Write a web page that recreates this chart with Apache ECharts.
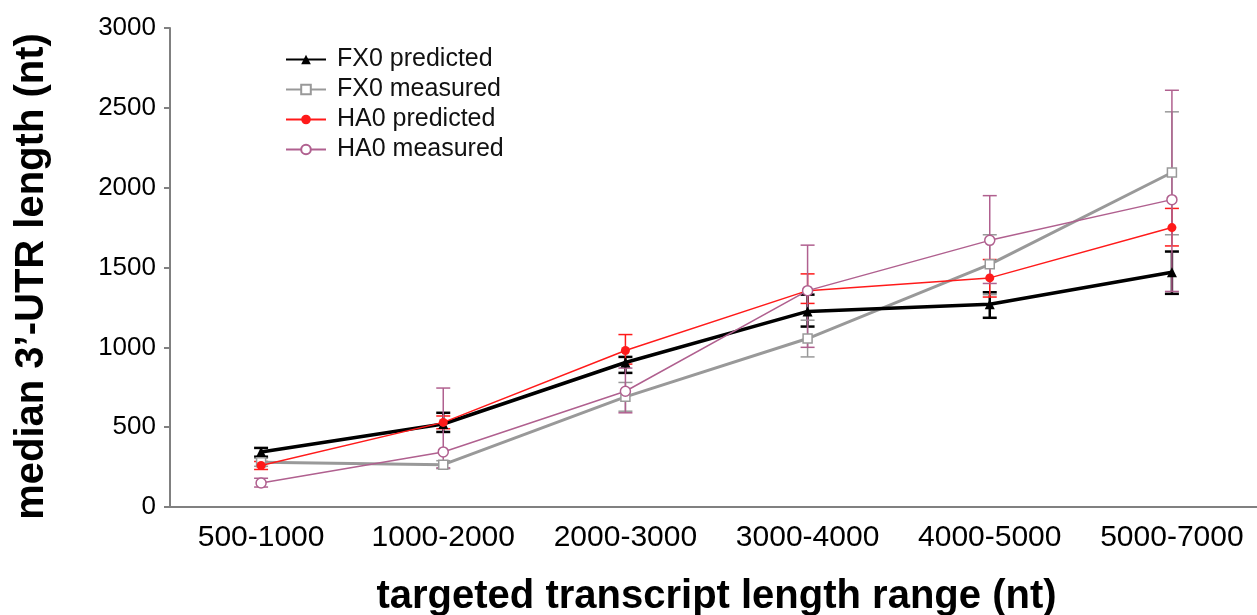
<!DOCTYPE html>
<html>
<head>
<meta charset="utf-8">
<script src="https://cdn.jsdelivr.net/npm/echarts@6/dist/echarts.min.js"></script>
<style>
  html, body { margin: 0; padding: 0; background: #fff; }
  #chart { width: 1257px; height: 615px; }
</style>
</head>
<body>
<div id="chart"></div>
<script>
// categories on the x axis
const ranges = ["500-1000", "1000-2000", "2000-3000", "3000-4000", "4000-5000", "5000-7000"];
const yTicks = [0, 500, 1000, 1500, 2000, 2500, 3000];

// median 3'-UTR length
const fx0Predicted = [345, 520, 905, 1225, 1270, 1470];
const fx0Measured = [280, 265, 690, 1055, 1520, 2095];
const ha0Predicted = [260, 530, 980, 1355, 1435, 1750];
const ha0Measured = [150, 345, 725, 1355, 1670, 1925];

// error bar ends (low / high)
const fx0PredLow = [315, 470, 840, 1130, 1185, 1335];
const fx0PredHigh = [370, 590, 940, 1330, 1345, 1600];
const fx0MeasLow = [255, 240, 600, 940, 1330, 1705];
const fx0MeasHigh = [305, 290, 780, 1170, 1705, 2475];
const ha0PredLow = [235, 490, 895, 1275, 1315, 1635];
const ha0PredHigh = [285, 570, 1080, 1460, 1550, 1870];
const ha0MeasLow = [125, 245, 590, 1000, 1400, 1350];
const ha0MeasHigh = [180, 745, 870, 1640, 1950, 2610];

const black = "#000000";
const gray = "#999999";
const red = "#ff1a1a";
const pink = "#b0608f";

var myChart = echarts.init(document.getElementById("chart"));

function errorSeries(low, high, color, width) {
  return {
    type: "custom",
    silent: true,
    z: 1,
    renderItem: function (params, api) {
      var lo = api.coord([api.value(0), api.value(1)]);
      var hi = api.coord([api.value(0), api.value(2)]);
      var half = 7;
      var style = { stroke: color, lineWidth: width };
      return {
        type: "group",
        children: [
          { type: "line", shape: { x1: lo[0], y1: lo[1], x2: hi[0], y2: hi[1] }, style: style },
          { type: "line", shape: { x1: lo[0] - half, y1: lo[1], x2: lo[0] + half, y2: lo[1] }, style: style },
          { type: "line", shape: { x1: hi[0] - half, y1: hi[1], x2: hi[0] + half, y2: hi[1] }, style: style },
        ],
      };
    },
    data: ranges.map(function (_, i) { return [i, low[i], high[i]]; }),
  };
}

var option = {
  backgroundColor: "#fff",
  animation: false,
  textStyle: { fontFamily: "Liberation Sans, Arial, sans-serif" },
  grid: { left: 170, right: -6, top: 28, bottom: 108, containLabel: false, outerBoundsMode: "none" },
  legend: {
    data: ["FX0 predicted", "FX0 measured", "HA0 predicted", "HA0 measured"],
    orient: "vertical",
    left: 280,
    top: 42,
    itemWidth: 40,
    itemHeight: 12,
    itemGap: 5,
    textStyle: { fontSize: 25, color: "#111", padding: [0, 0, 0, 6] },
  },
  xAxis: {
    type: "category",
    data: ranges,
    name: "targeted transcript length range (nt)",
    nameLocation: "middle",
    nameGap: 70,
    nameTextStyle: { fontSize: 40, fontWeight: "bold", color: "#000" },
    axisLine: { lineStyle: { color: "#808080", width: 2 } },
    axisTick: { length: 7, lineStyle: { color: "#808080", width: 2 } },
    axisLabel: { fontSize: 30, color: "#000", margin: 16, interval: 0, hideOverlap: false },
    splitLine: { show: false },
  },
  yAxis: {
    type: "value",
    min: yTicks[0],
    max: yTicks[yTicks.length - 1],
    interval: 500,
    name: "median 3’-UTR length (nt)",
    nameLocation: "middle",
    nameGap: 118,
    nameTextStyle: { fontSize: 40, fontWeight: "bold", color: "#000", padding: [0, 18, 0, 0] },
    axisLine: { show: true, lineStyle: { color: "#808080", width: 2 } },
    axisTick: { show: true, length: 6, lineStyle: { color: "#808080", width: 2 } },
    axisLabel: { fontSize: 26, color: "#000", margin: 14, formatter: function (v) { return String(v); } },
    splitLine: { show: false },
  },
  series: [
    errorSeries(fx0PredLow, fx0PredHigh, black, 2.5),
    errorSeries(fx0MeasLow, fx0MeasHigh, gray, 1.5),
    errorSeries(ha0PredLow, ha0PredHigh, red, 1.5),
    errorSeries(ha0MeasLow, ha0MeasHigh, pink, 1.5),
    {
      name: "FX0 predicted",
      type: "line",
      data: fx0Predicted,
      symbol: "triangle",
      symbolSize: 10,
      z: 3,
      lineStyle: { color: black, width: 3.5 },
      itemStyle: { color: black },
    },
    {
      name: "FX0 measured",
      type: "line",
      data: fx0Measured,
      symbol: "rect",
      symbolSize: 9,
      z: 2,
      lineStyle: { color: gray, width: 3 },
      itemStyle: { color: "#fff", borderColor: gray, borderWidth: 1.5 },
    },
    {
      name: "HA0 predicted",
      type: "line",
      data: ha0Predicted,
      symbol: "circle",
      symbolSize: 9,
      z: 4,
      lineStyle: { color: red, width: 1.5 },
      itemStyle: { color: red },
    },
    {
      name: "HA0 measured",
      type: "line",
      data: ha0Measured,
      symbol: "circle",
      symbolSize: 10,
      z: 4,
      lineStyle: { color: pink, width: 1.5 },
      itemStyle: { color: "#fff", borderColor: pink, borderWidth: 1.5 },
    },
  ],
};

myChart.setOption(option);
</script>
</body>
</html>
